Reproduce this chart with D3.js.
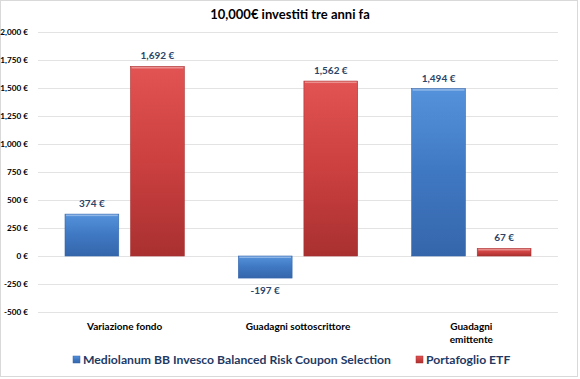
<!DOCTYPE html>
<html>
<head>
<meta charset="utf-8">
<script src="https://cdnjs.cloudflare.com/ajax/libs/d3/7.8.5/d3.min.js"></script>
<style>
  body { margin: 0; background: #fff; }
  text { font-family: Lato, "Open Sans", sans-serif; font-weight: bold; }
</style>
</head>
<body>
<div id="chart"></div>
<script>
// data
const categories = [["Variazione fondo"], ["Guadagni sottoscrittore"], ["Guadagni", "emittente"]];
const seriesNames = ["Mediolanum BB Invesco Balanced Risk Coupon Selection", "Portafoglio ETF"];
const fondoValues = [374, -197, 1494];
const etfValues = [1692, 1562, 67];
const yTicks = [-500, -250, 0, 250, 500, 750, 1000, 1250, 1500, 1750, 2000];

const W = 580, H = 379;
const margin = { top: 32, right: 22, bottom: 67, left: 38 };
const width = W - margin.left - margin.right,
    height = H - margin.top - margin.bottom;

// plain hyphen for negatives, like the original
const fmt = d3.formatLocale({ decimal: ".", thousands: ",", grouping: [3], currency: ["", ""], minus: "-" }).format(",");
const euro = d => fmt(d) + " €";

const svg = d3.select("#chart").append("svg")
    .attr("width", W).attr("height", H);

// gradients for the bevelled bars
const defs = svg.append("defs");
const colors = [["#5592dc", "#3f78c2", "#3566ab"], ["#e25353", "#cc4040", "#a93030"]];
colors.forEach((c, i) => {
    const g = defs.append("linearGradient").attr("id", "grad" + i)
        .attr("x1", 0).attr("y1", 0).attr("x2", 0).attr("y2", 1);
    g.append("stop").attr("offset", "0%").attr("stop-color", c[0]);
    g.append("stop").attr("offset", "50%").attr("stop-color", c[1]);
    g.append("stop").attr("offset", "100%").attr("stop-color", c[2]);
});

// outer border
svg.append("rect")
    .attr("x", 0.5).attr("y", 0.5).attr("width", W - 3).attr("height", H - 3)
    .attr("fill", "#fff").attr("stroke", "#d9d9d9");

svg.append("text")
    .attr("x", 290).attr("y", 19)
    .attr("text-anchor", "middle")
    .style("font-size", "13px")
    .attr("fill", "#000")
    .text("10,000€ investiti tre anni fa");

const g = svg.append("g")
    .attr("transform", `translate(${margin.left},${margin.top})`);

const y = d3.scaleLinear().domain([-500, 2000]).range([280, 0]);
const x0 = d3.scaleBand().domain(d3.range(categories.length)).range([0, width]);
const x1 = d3.scaleBand().domain([0, 1]).range([27, x0.bandwidth() - 27]).paddingInner(0.18);

// gridlines + y labels
const yAxis = g.append("g")
    .call(d3.axisLeft(y).tickValues(yTicks).tickSize(-width).tickFormat(euro));
yAxis.select(".domain").remove();
yAxis.selectAll(".tick line").attr("stroke", "#e3e3e3").attr("stroke-width", 1);
yAxis.selectAll(".tick text").attr("x", -10).attr("fill", "#000")
    .style("font-size", "8.2px").style("font-family", "Lato, sans-serif").style("font-weight", "bold");

// category labels
const cat = g.append("g").selectAll("text")
    .data(categories).join("text")
    .attr("x", (d, i) => x0(i) + x0.bandwidth() / 2)
    .attr("y", 298)
    .attr("text-anchor", "middle")
    .style("font-size", "10px")
    .attr("fill", "#000");
cat.selectAll("tspan").data(d => d).join("tspan")
    .attr("x", function () { return d3.select(this.parentNode).attr("x"); })
    .attr("dy", (d, i) => i === 0 ? 0 : 13)
    .text(d => d);

// bars
const series = [fondoValues, etfValues];
series.forEach((vals, s) => {
    const bars = g.append("g");
    bars.selectAll("rect.bar").data(vals).join("rect")
        .attr("class", "bar")
        .attr("x", (d, i) => x0(i) + x1(s))
        .attr("y", d => y(Math.max(0, d)))
        .attr("width", x1.bandwidth())
        .attr("height", d => Math.abs(y(d) - y(0)))
        .attr("fill", `url(#grad${s})`)
        .attr("stroke", colors[s][2]).attr("stroke-width", 0.6);
    // light top bevel
    bars.selectAll("rect.hl").data(vals).join("rect")
        .attr("class", "hl")
        .attr("x", (d, i) => x0(i) + x1(s) + 1)
        .attr("y", d => y(Math.max(0, d)) + 0.5)
        .attr("width", x1.bandwidth() - 2)
        .attr("height", 1.5)
        .attr("fill", "#fff").attr("opacity", 0.35);
    bars.selectAll("text").data(vals).join("text")
        .attr("x", (d, i) => x0(i) + x1(s) + x1.bandwidth() / 2)
        .attr("y", d => d >= 0 ? y(d) - 7 : y(d) + 16)
        .attr("text-anchor", "middle")
        .style("font-size", "10px")
        .attr("fill", "#2b4468")
        .text(euro);
});

// legend
const legend = svg.append("g").attr("transform", "translate(0,364)");
const legendX = [73, 416];
seriesNames.forEach((name, s) => {
    legend.append("rect")
        .attr("x", legendX[s]).attr("y", -8).attr("width", 7).attr("height", 7)
        .attr("fill", `url(#grad${s})`).attr("stroke", colors[s][2]).attr("stroke-width", 0.5);
    legend.append("text")
        .attr("x", legendX[s] + 10).attr("y", 0)
        .style("font-size", "12.2px")
        .attr("fill", "#1f3a63")
        .text(name);
});
</script>
</body>
</html>
